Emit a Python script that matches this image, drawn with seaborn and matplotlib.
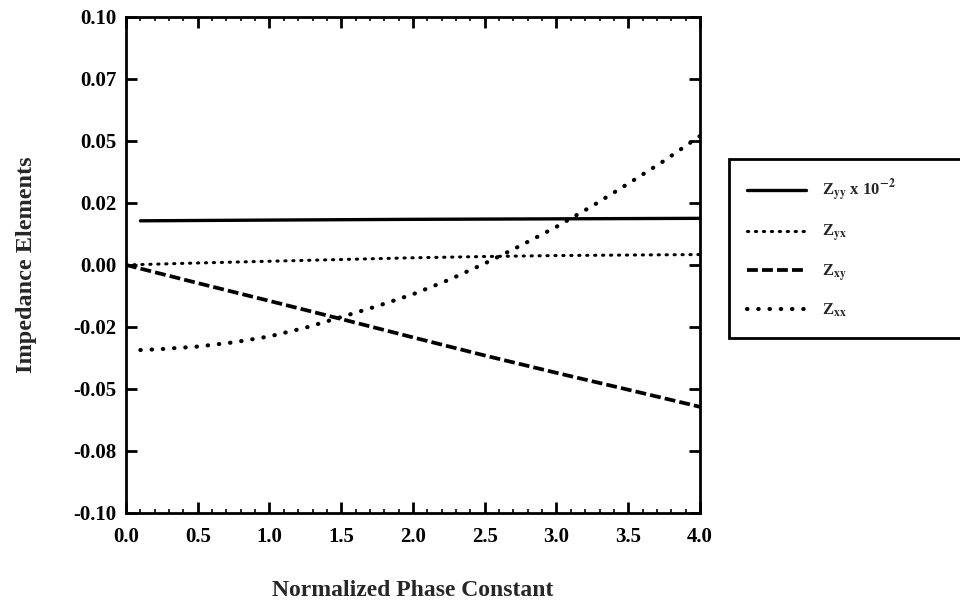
import matplotlib
matplotlib.use('Agg')
import matplotlib.pyplot as plt
import seaborn as sns
import numpy as np

# values
x_yy = [0.1, 1.0, 2.0, 3.0, 4.0]
z_yy = [0.0178, 0.0181, 0.0184, 0.0186, 0.0188]

x_yx = [0.0, 0.5, 1.0, 1.5, 2.0, 2.5, 3.0, 3.5, 4.0]
z_yx = [0.0, 0.0008, 0.0015, 0.0022, 0.0029, 0.0034, 0.0038, 0.0040, 0.0042]

x_xy = [0.0, 0.5, 1.0, 1.5, 2.0, 2.5, 3.0, 3.5, 4.0]
z_xy = [0.0, -0.0073, -0.0145, -0.0218, -0.0292, -0.0365, -0.0435, -0.0503, -0.0572]

x_xx = [0.1, 0.25, 0.5, 0.75, 1.0, 1.25, 1.5, 1.75, 2.0, 2.25, 2.5,
        2.75, 3.0, 3.25, 3.5, 3.75, 4.0]
z_xx = [-0.0343, -0.0339, -0.0329, -0.0312, -0.0288, -0.0253, -0.0210,
        -0.0166, -0.0118, -0.0060, 0.0006, 0.0078, 0.0154, 0.0238,
        0.0328, 0.0420, 0.0520]

x_ticks = [0.0, 0.5, 1.0, 1.5, 2.0, 2.5, 3.0, 3.5, 4.0]
y_ticks = [0.1, 0.075, 0.05, 0.025, 0.0, -0.025, -0.05, -0.075, -0.1]
y_labels = ['0.10', '0.07', '0.05', '0.02', '0.00', '-0.02', '-0.05', '-0.08', '-0.10']

labels = [r'Z$_{\mathbf{yy}}$ x 10$^{\mathbf{-2}}$', r'Z$_{\mathbf{yx}}$',
          r'Z$_{\mathbf{xy}}$', r'Z$_{\mathbf{xx}}$']

sns.set_style('ticks')
plt.rcParams['font.family'] = ['Liberation Serif', 'DejaVu Serif']
plt.rcParams['mathtext.fontset'] = 'stix'

fig = plt.figure(figsize=(9.6, 6.08), dpi=100)
ax = fig.add_axes([0.13125, 0.1563, 0.5979, 0.8158])

sns.lineplot(x=x_yy, y=z_yy, ax=ax, color='black', lw=2.4,
             label=labels[0])
sns.lineplot(x=x_yx, y=z_yx, ax=ax, color='black', lw=2.2,
             linestyle=(0, (0.4, 2.2)), dash_capstyle='round', label=labels[1])
sns.lineplot(x=x_xy, y=z_xy, ax=ax, color='black', lw=2.7,
             linestyle=(0, (2.9, 1.1)), label=labels[2])
sns.lineplot(x=x_xx, y=z_xx, ax=ax, color='black', lw=3.0,
             linestyle=(0, (0.1, 2.6)), dash_capstyle='round', label=labels[3])

ax.set_xlim(0, 4.0)
ax.set_ylim(-0.1, 0.1)
ax.set_xticks(x_ticks)
ax.set_xticklabels([f'{v:.1f}' for v in x_ticks])
ax.set_xticks(np.arange(0, 4.01, 0.1), minor=True)
ax.set_yticks(y_ticks)
ax.set_yticklabels(y_labels)

for s in ax.spines.values():
    s.set_visible(True)
    s.set_linewidth(2.0)
    s.set_color('black')

ax.tick_params(axis='both', which='major', direction='in', length=8, width=2.0,
               top=True, right=True, labelsize=15, colors='black')
ax.tick_params(axis='x', which='major', pad=10)
ax.tick_params(axis='y', which='major', pad=7)
ax.tick_params(axis='x', which='minor', direction='in', length=3, width=1.4,
               top=True, bottom=True)
for t in ax.get_xticklabels() + ax.get_yticklabels():
    t.set_fontweight('bold')

ax.set_xlabel('Normalized Phase Constant', fontsize=17, fontweight='bold', labelpad=24)
ax.set_ylabel('Impedance Elements', fontsize=17.5, fontweight='bold', labelpad=26)

leg = ax.legend(loc='upper left', bbox_to_anchor=(729 / 960, 1 - 159 / 608, 0.27, 0.0),
                bbox_transform=fig.transFigure, mode='expand',
                prop={'size': 12, 'weight': 'bold'},
                frameon=True, fancybox=False, edgecolor='black', framealpha=1,
                handlelength=3.5, labelspacing=1.1, borderpad=1.1,
                handletextpad=1.0, borderaxespad=0)
leg.get_frame().set_linewidth(2.0)

fig.savefig('out.png', dpi=100, facecolor='white')
